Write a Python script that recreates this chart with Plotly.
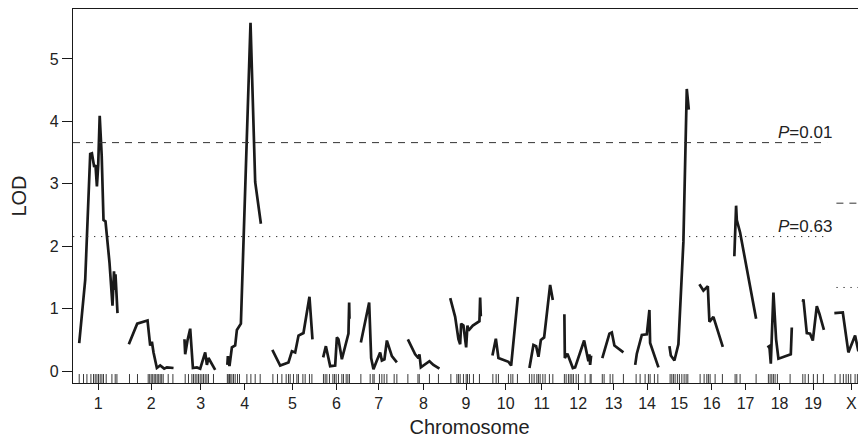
import plotly.graph_objects as go

# ---------------- data ----------------
chrom_names = ["1", "2", "3", "4", "5", "6", "7", "8", "9", "10",
               "11", "12", "13", "14", "15", "16", "17", "18", "19", "X"]
chrom_len_cM = [96, 109, 78, 83, 97, 64, 88, 78, 76, 64,
                59, 66, 54, 57, 47, 59, 54, 59, 52, 82]
GAP_CM = 25

# LOD curves: position (cM within chromosome) and LOD score
c1_pos = [2.4, 16.8, 28.8, 32.9, 38.4, 41.5, 44.9, 48.0, 51.6, 56.4, 60.7, 65.5, 75.1, 82.3, 85.9, 88.3, 89.5, 94.3]
c1_lod = [0.45, 1.46, 3.48, 3.49, 3.27, 3.30, 2.96, 3.30, 4.09, 3.45, 2.42, 2.40, 1.74, 1.05, 1.60, 1.30, 1.55, 0.93]
c2_pos = [0.5, 20.6, 45.4, 51.8, 55.9, 59.8, 67.8, 75.8, 85.4, 91.9, 107.8]
c2_lod = [0.43, 0.76, 0.81, 0.41, 0.47, 0.30, 0.05, 0.09, 0.04, 0.06, 0.05]
c3_pos = [0.1, 1.8, 7.3, 13.8, 20.3, 29.9, 37.8, 49.8, 53.9, 57.7, 73.8]
c3_lod = [0.51, 0.27, 0.49, 0.68, 0.05, 0.06, 0.04, 0.30, 0.10, 0.21, 0.02]
c4_pos = [0.0, 1.3, 5.1, 10.9, 18.8, 22.9, 32.5, 55.6, 66.8, 80.5]
c4_lod = [0.10, 0.24, 0.08, 0.38, 0.41, 0.66, 0.76, 5.58, 3.03, 2.36]
c5_pos = [0.0, 18.8, 38.7, 47.0, 54.8, 62.8, 74.7, 89.1, 96.3]
c5_lod = [0.34, 0.09, 0.14, 0.32, 0.30, 0.57, 0.61, 1.19, 0.51]
c6_pos = [0.0, 6.5, 16.8, 28.8, 32.9, 36.7, 44.9, 56.9, 60.7, 62.4, 63.1]
c6_lod = [0.22, 0.40, 0.08, 0.09, 0.54, 0.51, 0.19, 0.54, 0.60, 1.10, 0.84]
c7_pos = [1.5, 21.4, 26.2, 31.7, 39.9, 47.8, 51.9, 58.1, 63.9, 75.9, 87.9]
c7_lod = [0.46, 1.10, 0.21, 0.03, 0.17, 0.30, 0.17, 0.19, 0.49, 0.24, 0.14]
c8_pos = [1.3, 18.8, 26.7, 29.1, 32.5, 53.1, 62.7, 77.1]
c8_lod = [0.51, 0.27, 0.21, 0.27, 0.06, 0.16, 0.10, 0.04]
c9_pos = [0.0, 11.8, 19.7, 23.8, 26.2, 31.7, 38.2, 41.3, 43.7, 54.2, 70.1, 71.8, 73.4]
c9_lod = [1.17, 0.87, 0.51, 0.43, 0.76, 0.73, 0.38, 0.73, 0.65, 0.73, 0.80, 1.18, 0.88]
c10_pos = [0.3, 8.5, 14.7, 38.7, 45.2, 61.3]
c10_lod = [0.25, 0.52, 0.21, 0.15, 0.09, 1.19]
c11_pos = [0.1, 9.7, 16.2, 21.8, 27.6, 35.4, 49.8, 56.2]
c11_lod = [0.05, 0.42, 0.40, 0.23, 0.50, 0.54, 1.38, 1.14]
c12_pos = [0.0, 1.1, 7.3, 20.3, 25.8, 37.8, 47.4, 57.7, 60.1, 61.8, 64.2]
c12_lod = [0.91, 0.21, 0.28, 0.05, 0.06, 0.32, 0.49, 0.16, 0.27, 0.10, 0.25]
c13_pos = [0.0, 17.1, 22.9, 29.1, 50.7]
c13_lod = [0.21, 0.60, 0.62, 0.41, 0.30]
c14_pos = [0.0, 3.9, 15.9, 27.9, 34.1, 35.8, 55.8]
c14_lod = [0.10, 0.28, 0.58, 0.59, 0.98, 0.45, 0.06]
c15_pos = [0.1, 3.5, 12.1, 21.7, 33.7, 40.1, 41.8, 46.6]
c15_lod = [0.40, 0.25, 0.17, 0.43, 2.07, 3.66, 4.52, 4.19]
c16_pos = [0.1, 9.7, 20.3, 24.1, 33.7, 56.3]
c16_lod = [1.39, 1.29, 1.36, 0.79, 0.87, 0.39]
c17_pos = [0.0, 4.2, 5.9, 13.8, 52.2]
c17_lod = [1.84, 2.65, 2.42, 2.22, 0.84]
c18_pos = [0.3, 5.1, 8.5, 14.8, 21.2, 26.8, 56.5, 58.9]
c18_lod = [0.38, 0.40, 0.12, 1.26, 0.51, 0.20, 0.27, 0.70]
c19_pos = [1.3, 2.8, 10.9, 18.8, 25.3, 34.9, 41.1, 52.0]
c19_lod = [1.11, 1.15, 0.61, 0.60, 0.49, 1.04, 0.92, 0.66]
cX_pos = [0.0, 20.3, 33.7, 49.8, 57.7, 73.8]
cX_lod = [0.93, 0.94, 0.30, 0.57, 0.32, 0.75]

# genetic markers (cM within chromosome)
c1_mk = [2.4, 12.7, 20.9, 30.5, 36.7, 40.8, 44.9, 48.7, 52.8, 56.9, 60.7, 67.2, 80.9, 88.8, 92.9]
c2_mk = [2.1, 21.3, 47.0, 50.6, 54.2, 57.8, 61.4, 65.0, 68.6, 72.2, 75.8, 79.4, 83.0, 95.0, 106.3]
c3_mk = [1.8, 9.7, 17.9, 21.7, 25.8, 29.9, 33.7, 37.8, 41.9, 45.7, 49.8, 53.9, 57.7, 69.7]
c4_mk = [0.0, 2.0, 5.1, 6.8, 10.9, 14.7, 18.8, 24.3, 29.1, 46.9, 56.5, 66.8, 78.8]
c5_mk = [1.3, 12.3, 22.9, 33.2, 38.7, 42.8, 50.7, 58.9, 62.7, 73.3, 78.8, 89.1, 94.9]
c6_mk = [0.7, 4.8, 8.9, 15.1, 23.3, 27.1, 31.2, 36.7, 44.9, 48.7, 55.2, 59.3, 63.1]
c7_mk = [1.5, 23.8, 30.3, 33.4, 46.1, 51.9, 57.4, 63.9, 81.4, 87.9]
c8_mk = [1.3, 25.5, 28.6, 53.1, 74.7]
c9_mk = [1.5, 15.9, 19.7, 23.8, 31.7, 38.2, 41.3, 46.1, 55.7, 70.1]
c10_mk = [1.3, 9.2, 14.7, 38.7, 44.5, 49.3, 60.3]
c11_mk = [0.1, 5.9, 11.4, 17.9, 21.7, 25.8, 32.3, 37.8, 48.1, 56.3]
c12_mk = [0.0, 4.2, 9.7, 13.8, 17.9, 21.7, 28.2, 33.7, 49.8, 61.8, 64.2]
c13_mk = [0.0, 4.4, 18.8, 25.3, 50.7]
c14_mk = [2.2, 11.8, 23.8, 31.7, 35.8, 46.1, 54.3]
c15_mk = [1.8, 5.9, 9.7, 13.8, 19.3, 24.1, 29.9, 35.4, 40.2, 44.3]
c16_mk = [1.8, 11.4, 17.9, 21.7, 25.8, 37.8, 55.3]
c17_mk = [1.8, 5.9, 13.8, 52.2]
c18_mk = [2.7, 6.8, 10.9, 14.7, 18.8, 24.3, 54.8]
c19_mk = [1.3, 6.8, 14.7, 26.7, 36.3, 50.7]
cX_mk = [1.8, 13.8, 21.7, 28.2, 33.7, 39.5, 49.8, 55.3, 60.1, 65.9, 73.8]

# permutation thresholds
thr_auto_p01 = 3.66
thr_auto_p63 = 2.155
thr_x_p01 = 2.69
thr_x_p63 = 1.34
y_ticks = [0, 1, 2, 3, 4, 5]

# ---------------- assemble ----------------
all_pos = [c1_pos, c2_pos, c3_pos, c4_pos, c5_pos, c6_pos, c7_pos, c8_pos, c9_pos, c10_pos,
           c11_pos, c12_pos, c13_pos, c14_pos, c15_pos, c16_pos, c17_pos, c18_pos, c19_pos, cX_pos]
all_lod = [c1_lod, c2_lod, c3_lod, c4_lod, c5_lod, c6_lod, c7_lod, c8_lod, c9_lod, c10_lod,
           c11_lod, c12_lod, c13_lod, c14_lod, c15_lod, c16_lod, c17_lod, c18_lod, c19_lod, cX_lod]
all_mk = [c1_mk, c2_mk, c3_mk, c4_mk, c5_mk, c6_mk, c7_mk, c8_mk, c9_mk, c10_mk,
          c11_mk, c12_mk, c13_mk, c14_mk, c15_mk, c16_mk, c17_mk, c18_mk, c19_mk, cX_mk]

offsets = []
acc = 0.0
for L in chrom_len_cM:
    offsets.append(acc)
    acc += L + GAP_CM
mids = [o + L / 2 for o, L in zip(offsets, chrom_len_cM)]

INK = "#1a1a1a"
FONT = "Liberation Sans, Arial, sans-serif"

fig = go.Figure()

for name, off, pos, lod in zip(chrom_names, offsets, all_pos, all_lod):
    fig.add_trace(go.Scatter(
        x=[off + p for p in pos], y=lod, mode="lines",
        line=dict(color=INK, width=2.7), name="Chr " + name,
        showlegend=False, hoverinfo="x+y"))

mk_x = []
for off, mk in zip(offsets, all_mk):
    mk_x.extend(off + m for m in mk)
fig.add_trace(go.Scatter(
    x=mk_x, y=[-0.125] * len(mk_x), mode="markers",
    marker=dict(symbol="line-ns", size=7, line=dict(color="#3a3a3a", width=1)),
    showlegend=False, hoverinfo="skip"))

x_lo = -GAP_CM / 2
x_hi = 1891
auto_end = offsets[-1] - 0.7 * GAP_CM
x_start = offsets[-1] + 0.2 * GAP_CM

for y, dash in [(thr_auto_p01, "7px,6px"), (thr_auto_p63, "1.3px,5.7px")]:
    fig.add_trace(go.Scatter(x=[x_lo, auto_end], y=[y, y], mode="lines",
                             line=dict(color="#333333", width=1, dash=dash),
                             showlegend=False, hoverinfo="skip"))
for y, dash in [(thr_x_p01, "7px,6px"), (thr_x_p63, "1.3px,5.7px")]:
    fig.add_trace(go.Scatter(x=[x_start, x_hi + 20], y=[y, y], mode="lines",
                             line=dict(color="#333333", width=1, dash=dash),
                             showlegend=False, hoverinfo="skip"))

for y, txt in [(thr_auto_p01, "<i>P</i>=0.01"), (thr_auto_p63, "<i>P</i>=0.63")]:
    fig.add_annotation(x=offsets[-1], y=y, text=txt, showarrow=False,
                       xanchor="right", yanchor="bottom", yshift=-1,
                       font=dict(family=FONT, size=17, color="#222222"))

# the page body adds an 8px margin; the figure fills the rest of the 866x438 window
fig.update_layout(
    width=858, height=430,
    margin=dict(l=65, r=0, t=1, b=55, pad=0, autoexpand=False),
    paper_bgcolor="white", plot_bgcolor="white",
    font=dict(family=FONT, color="#222222"),
    showlegend=False,
)
fig.update_xaxes(
    range=[x_lo, x_hi], tickmode="array", tickvals=mids, ticktext=chrom_names,
    ticks="outside", ticklen=6, tickwidth=1.2, tickcolor=INK,
    showline=True, linecolor=INK, linewidth=1.3, mirror=True,
    showgrid=False, zeroline=False, automargin=False,
    tickfont=dict(family=FONT, size=16, color="#222222"),
    title=dict(text="Chromosome", font=dict(family=FONT, size=20, color="#222222"), standoff=17),
)
fig.update_yaxes(
    range=[-0.19, 5.80], tickmode="array", tickvals=y_ticks,
    ticks="outside", ticklen=10, tickwidth=1.2, tickcolor=INK,
    showline=True, linecolor=INK, linewidth=1.3, mirror=False,
    showgrid=False, zeroline=False, automargin=False,
    tickfont=dict(family=FONT, size=16, color="#222222"),
    title=dict(text="LOD", font=dict(family=FONT, size=20, color="#222222"), standoff=17),
)

fig.write_html("out.html")
